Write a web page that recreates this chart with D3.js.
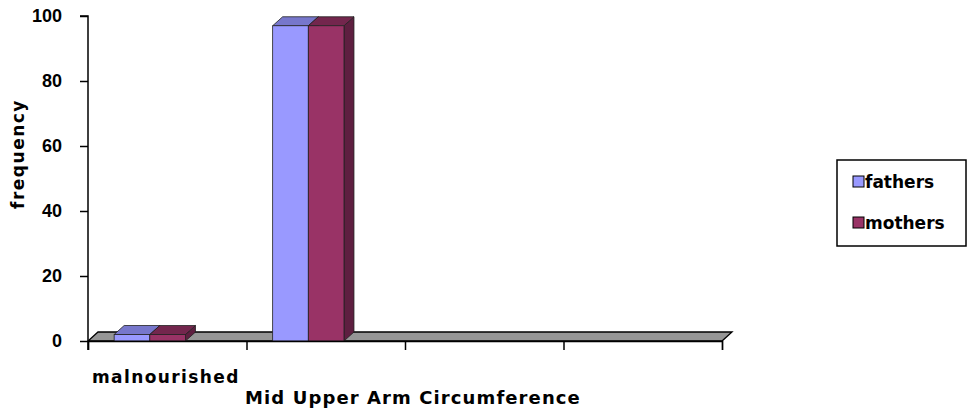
<!DOCTYPE html>
<html>
<head>
<meta charset="utf-8">
<script src="https://cdn.jsdelivr.net/npm/d3@7"></script>
<style>
  body { margin: 0; background: #fff; }
  text { font-family: "DejaVu Sans", Verdana, sans-serif; font-weight: bold; fill: #000; }
</style>
</head>
<body>
<div id="chart"></div>
<script>
const categories = ["malnourished", "", "", ""]
const seriesNames = ["fathers", "mothers"]
const fathers = [2, 97, null, null]
const mothers = [2, 97, null, null]
const yTicks = [0, 20, 40, 60, 80, 100]

const colors = {
    fathers: {front: "#9999ff", top: "#7777cc", side: "#5c5cae"},
    mothers: {front: "#993366", top: "#73264d", side: "#5e1f40"}
}

const width = 967
const height = 414
const margin = {top: 16, left: 88, right: 245, bottom: 73}
const w = 722 - margin.left
const h = 341 - margin.top
const depth = {dx: 10, dy: -9}

const svg = d3.select("#chart")
    .append("svg")
    .attr("width", width)
    .attr("height", height)

const g = svg.append("g")
    .attr("transform", `translate(${margin.left}, ${margin.top})`)

const xScale = d3.scaleBand()
    .domain(d3.range(categories.length))
    .range([0, w])

const yScale = d3.scaleLinear()
    .domain([0, 100])
    .range([h, 0])

const bw = xScale.bandwidth()
const xInner = d3.scaleBand()
    .domain(seriesNames)
    .range([bw * 0.165, bw * 0.615])

// floor
const floorPts = [[0, h], [w, h], [w + depth.dx, h + depth.dy], [depth.dx, h + depth.dy]]
g.append("polygon")
    .attr("points", floorPts.map(p => p.join(",")).join(" "))
    .attr("fill", "#969696")
    .attr("stroke", "#000")
    .attr("stroke-width", 1.3)

// bars
const data = []
categories.forEach((c, i) => {
    if (fathers[i] != null) data.push({i, s: "fathers", v: fathers[i]})
    if (mothers[i] != null) data.push({i, s: "mothers", v: mothers[i]})
})

const bars = g.selectAll(".bar")
    .data(data)
    .enter().append("g")
    .attr("class", "bar")

function pts(arr) { return arr.map(p => p.join(",")).join(" ") }

bars.each(function(d) {
    const x0 = xScale(d.i) + xInner(d.s)
    const x1 = x0 + xInner.bandwidth()
    const y0 = yScale(0)
    const y1 = yScale(d.v)
    const {dx, dy} = depth
    const el = d3.select(this)
    const c = colors[d.s]
    el.append("polygon")
        .attr("points", pts([[x1, y0], [x1 + dx, y0 + dy], [x1 + dx, y1 + dy], [x1, y1]]))
        .attr("fill", c.side).attr("stroke", "#222").attr("stroke-width", 0.8)
    el.append("polygon")
        .attr("points", pts([[x0, y1], [x1, y1], [x1 + dx, y1 + dy], [x0 + dx, y1 + dy]]))
        .attr("fill", c.top).attr("stroke", "#222").attr("stroke-width", 0.8)
    el.append("rect")
        .attr("x", x0).attr("y", y1)
        .attr("width", x1 - x0).attr("height", y0 - y1)
        .attr("fill", c.front).attr("stroke", "#222").attr("stroke-width", 0.8)
})

// y axis
const yAxis = d3.axisLeft(yScale)
    .tickValues(yTicks)
    .tickSize(8)
    .tickPadding(18)

const yG = g.append("g")
    .attr("class", "axis y-axis")
    .call(yAxis)
yG.select(".domain").attr("stroke-width", 1.5).attr("d", `M-8,0H0V${h + 9}`)
yG.selectAll(".tick line").attr("stroke-width", 1.5)
yG.selectAll("text")
    .style("font-family", "'Liberation Sans', Arial, sans-serif")
    .style("font-size", "18px")
    .style("font-weight", "bold")

// x axis ticks at category boundaries
const xAxis = d3.axisBottom(d3.scaleLinear().domain([0, categories.length]).range([0, w]))
    .tickValues(d3.range(categories.length + 1))
    .tickSize(9)
    .tickFormat("")

const xG = g.append("g")
    .attr("class", "axis x-axis")
    .attr("transform", `translate(0, ${h})`)
    .call(xAxis)
xG.select(".domain").attr("stroke", "#000").attr("stroke-width", 1.3)
xG.selectAll(".tick line").attr("stroke-width", 1.5)

// category labels
g.selectAll(".cat-label")
    .data(categories)
    .enter().append("text")
    .attr("class", "cat-label")
    .attr("x", (d, i) => xScale(i) + 4)
    .attr("y", h + 42)
    .style("font-size", "17px")
    .style("letter-spacing", "1.4px")
    .text(d => d)

// axis titles
svg.append("text")
    .attr("x", 413)
    .attr("y", 404)
    .attr("text-anchor", "middle")
    .style("font-size", "18px")
    .style("letter-spacing", "1.1px")
    .text("Mid Upper Arm Circumference")

svg.append("text")
    .attr("transform", "translate(24, 154) rotate(-90)")
    .attr("text-anchor", "middle")
    .style("font-size", "17px")
    .style("letter-spacing", "1.5px")
    .text("frequency")

// legend
const legend = svg.append("g")
    .attr("transform", "translate(837, 160)")
legend.append("rect")
    .attr("width", 129).attr("height", 86)
    .attr("fill", "#fff").attr("stroke", "#000").attr("stroke-width", 1.5)

const items = legend.selectAll(".item")
    .data(seriesNames)
    .enter().append("g")
    .attr("class", "item")
    .attr("transform", (d, i) => `translate(16, ${22 + i * 41})`)
items.append("rect")
    .attr("y", -6).attr("width", 11).attr("height", 11)
    .attr("fill", d => colors[d].front)
    .attr("stroke", "#000").attr("stroke-width", 1)
items.append("text")
    .attr("x", 12)
    .attr("y", 6)
    .style("font-size", "17px")
    .text(d => d)
</script>
</body>
</html>
